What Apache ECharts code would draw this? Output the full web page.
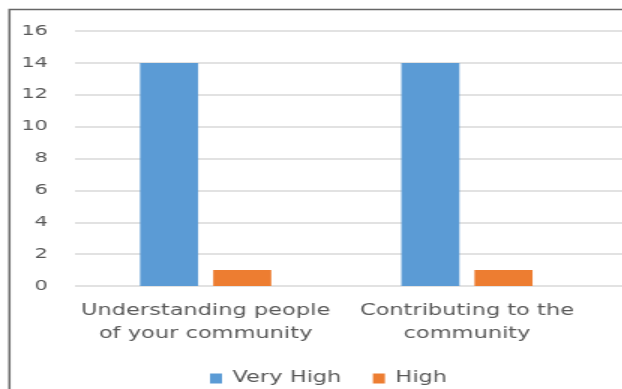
<!DOCTYPE html>
<html>
<head>
<meta charset="utf-8">
<script src="https://cdn.jsdelivr.net/npm/echarts@6/dist/echarts.min.js"></script>
<style>
  html, body { margin: 0; padding: 0; background: #fff; overflow: hidden; }
  /* The chart is laid out narrow and widened horizontally, giving the broad lettering */
  #chart { width: 414.667px; height: 389px; transform: scaleX(1.5); transform-origin: 0 0; }
</style>
</head>
<body>
<div id="chart"></div>
<script>
const categories = ['Understanding people\nof your community', 'Contributing to the\ncommunity'];
const veryHigh = [14, 14];
const high = [1, 1];
const yTicks = { min: 0, max: 16, interval: 2 };

const chart = echarts.init(document.getElementById('chart'), null, { renderer: 'canvas' });
const textColor = '#595959';
const font = 'DejaVu Sans';

chart.setOption({
  animation: false,
  backgroundColor: '#fff',
  textStyle: { fontFamily: font },
  graphic: [{
    type: 'rect',
    shape: { x: 6.3, y: 9.5, width: 600, height: 600 },
    style: { fill: 'none', stroke: '#666', lineWidth: 1.5 },
    silent: true
  }],
  grid: [
    { left: 50, right: 16.6, top: 31, bottom: 103 },
    { left: 50, right: 0, top: 31, bottom: 103 }
  ],
  legend: {
    data: ['Very High', 'High'],
    left: 135, top: 366,
    itemWidth: 8, itemHeight: 10, itemGap: 21,
    icon: 'rect',
    textStyle: { color: textColor, fontSize: 15, fontFamily: font, padding: [0, 0, 0, 2] }
  },
  xAxis: [
    {
      type: 'category', gridIndex: 0, data: categories,
      axisLine: { show: false }, axisTick: { show: false },
      axisLabel: { color: textColor, fontSize: 15, lineHeight: 23, margin: 14, interval: 0, fontFamily: font }
    },
    { type: 'value', gridIndex: 1, min: 0, max: 1, show: false }
  ],
  yAxis: [
    {
      type: 'value', gridIndex: 0, min: yTicks.min, max: yTicks.max, interval: yTicks.interval,
      axisLine: { show: false }, axisTick: { show: false }, splitLine: { show: false },
      axisLabel: { color: textColor, fontSize: 14, margin: 18, fontFamily: font }
    },
    {
      type: 'value', gridIndex: 1, min: yTicks.min, max: yTicks.max, interval: yTicks.interval,
      axisLine: { show: false }, axisTick: { show: false }, axisLabel: { show: false },
      splitLine: { show: true, lineStyle: { color: '#d9d9d9', width: 1.5 } }
    }
  ],
  series: [
    {
      name: 'Very High', type: 'bar', xAxisIndex: 0, yAxisIndex: 0,
      data: veryHigh, barWidth: 38.7, barGap: '26%',
      itemStyle: { color: '#5B9BD5' }
    },
    {
      name: 'High', type: 'bar', xAxisIndex: 0, yAxisIndex: 0,
      data: high, barWidth: 38.7, barGap: '26%',
      itemStyle: { color: '#ED7D31' }
    }
  ]
});
</script>
</body>
</html>
